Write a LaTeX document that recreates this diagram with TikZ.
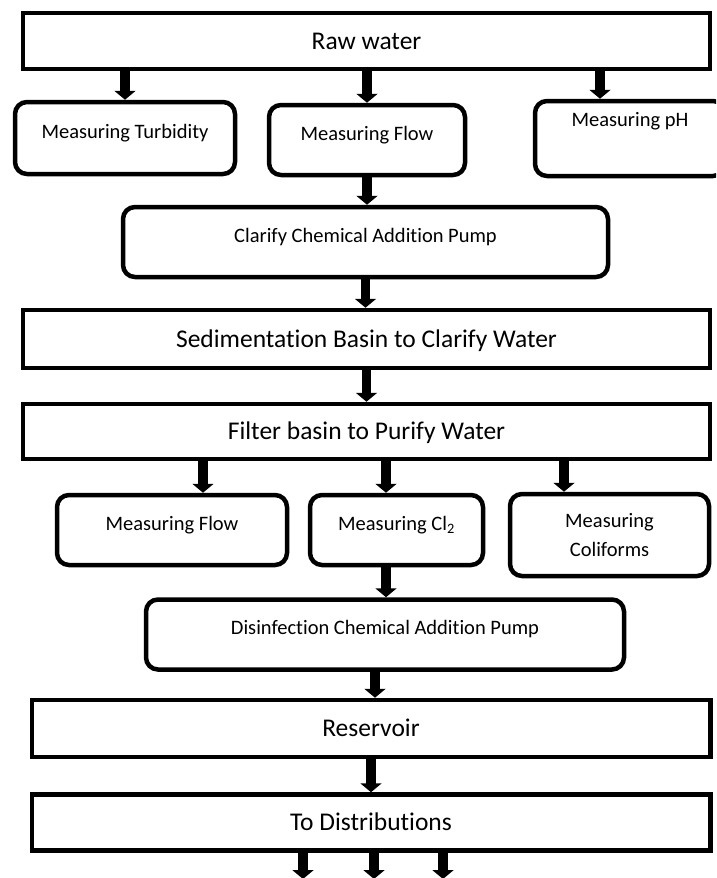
\documentclass[tikz,border=0pt]{standalone}
\usepackage{fontspec}
\setmainfont{Carlito}[Ligatures={NoCommon},Contextuals={NoAlternate}]
\usetikzlibrary{%
  arrows.meta% Triangle tips
}

\begin{document}
\begin{tikzpicture}[x=1pt,y=-1pt,station/.style={
	rectangle,inner sep=0pt,
	line width=4.5pt,
	draw=black,
	fill=white,
	minimum height=56pt,
	text height=16pt,text depth=0pt,
	font=\fontsize{25.5}{30}\selectfont
	},meter/.style={
	rectangle,rounded corners=12pt,inner sep=0pt,
	line width=4.5pt,
	draw=black,
	fill=white,
	minimum height=70pt,
	text height=0pt,text depth=0pt,
	font=\fontsize{20.5}{29}\selectfont
	},flow/.style={
	line width=9.5pt,-{Triangle[width=21pt,length=9pt]}
	}
]
\useasboundingbox (0,0) rectangle (716,878);
\clip (0,0) rectangle (716,878);

% First row
\node (atomRaw) [station,minimum width=687pt] at (366.5,41) {Raw water};
\node (atomTurb) [meter,minimum width=220pt,minimum height=72pt] at (125,138) {Measuring Turbidity};
\node (atomFlowA) [meter,minimum width=196pt] at (367,140) {Measuring Flow};
\node (atomPH) [meter,minimum width=190pt,minimum height=75pt,text depth=24pt] at (630,138.5) {Measuring pH};
\node (atomClar) [meter,minimum width=485pt] at (365.5,242) {Clarify Chemical Addition Pump};
\node (atomSed) [station,minimum width=687pt,minimum height=58pt] at (366.5,339) {Sedimentation Basin to Clarify Water};
\node (atomFilt) [station,minimum width=687pt,minimum height=55pt] at (366.5,431.5) {Filter basin to Purify Water};
% Second row
\node (atomFlowB) [meter,minimum width=230pt] at (172,530) {Measuring Flow};
\node (atomCl) [meter,minimum width=173pt] at (396.5,530) {Measuring Cl\textsubscript{2}};
\node (atomColi) [meter,minimum width=199pt,minimum height=82pt,text height={},text depth={},align=center] at (609.5,535) {Measuring\\Coliforms};
\node (atomDis) [meter,minimum width=478pt] at (385,634.5) {Disinfection Chemical Addition Pump};
\node (atomRes) [station,minimum width=678.5pt,minimum height=57pt] at (371,728.5) {Reservoir};
\node (atomDist) [station,minimum width=678.5pt] at (371,822.5) {To Distributions};

%(x,y) of the arrows that are off centre
\coordinate (POSA) at (600,0);
\coordinate (POSB) at (203,0);
\coordinate (POSC) at (386,0);
\coordinate (POSD) at (564,0);
\coordinate (POSE) at (375,0);
\coordinate (POSF) at (303,879);
\coordinate (POSG) at (374,879);
\coordinate (POSH) at (443,879);

\draw[flow] (atomRaw.south -| atomTurb.north) -- (atomTurb.north);
\draw[flow] (atomRaw.south -| atomFlowA.north) -- (atomFlowA.north);
\draw[flow] (atomRaw.south -| POSA) -- (atomPH.north -| POSA);
\draw[flow] (atomFlowA.south) -- (atomClar.north -| atomFlowA.south);
\draw[flow] (atomClar.south) -- (atomSed.north -| atomClar.south);
\draw[flow] (atomSed.south) -- (atomFilt.north);
\draw[flow] (atomFilt.south -| POSB) -- (atomFlowB.north -| POSB);
\draw[flow] (atomFilt.south -| POSC) -- (atomCl.north -| POSC);
\draw[flow] (atomFilt.south -| POSD) -- (atomColi.north -| POSD);
\draw[flow] (atomCl.south -| POSC) -- (atomDis.north -| POSC);
\draw[flow] (atomDis.south -| POSE) -- (atomRes.north -| POSE);
\draw[flow] (atomRes.south) -- (atomDist.north);
\draw[flow] (atomDist.south -| POSF) -- (POSF);
\draw[flow] (atomDist.south -| POSG) -- (POSG);
\draw[flow] (atomDist.south -| POSH) -- (POSH);

\end{tikzpicture}
\end{document}
